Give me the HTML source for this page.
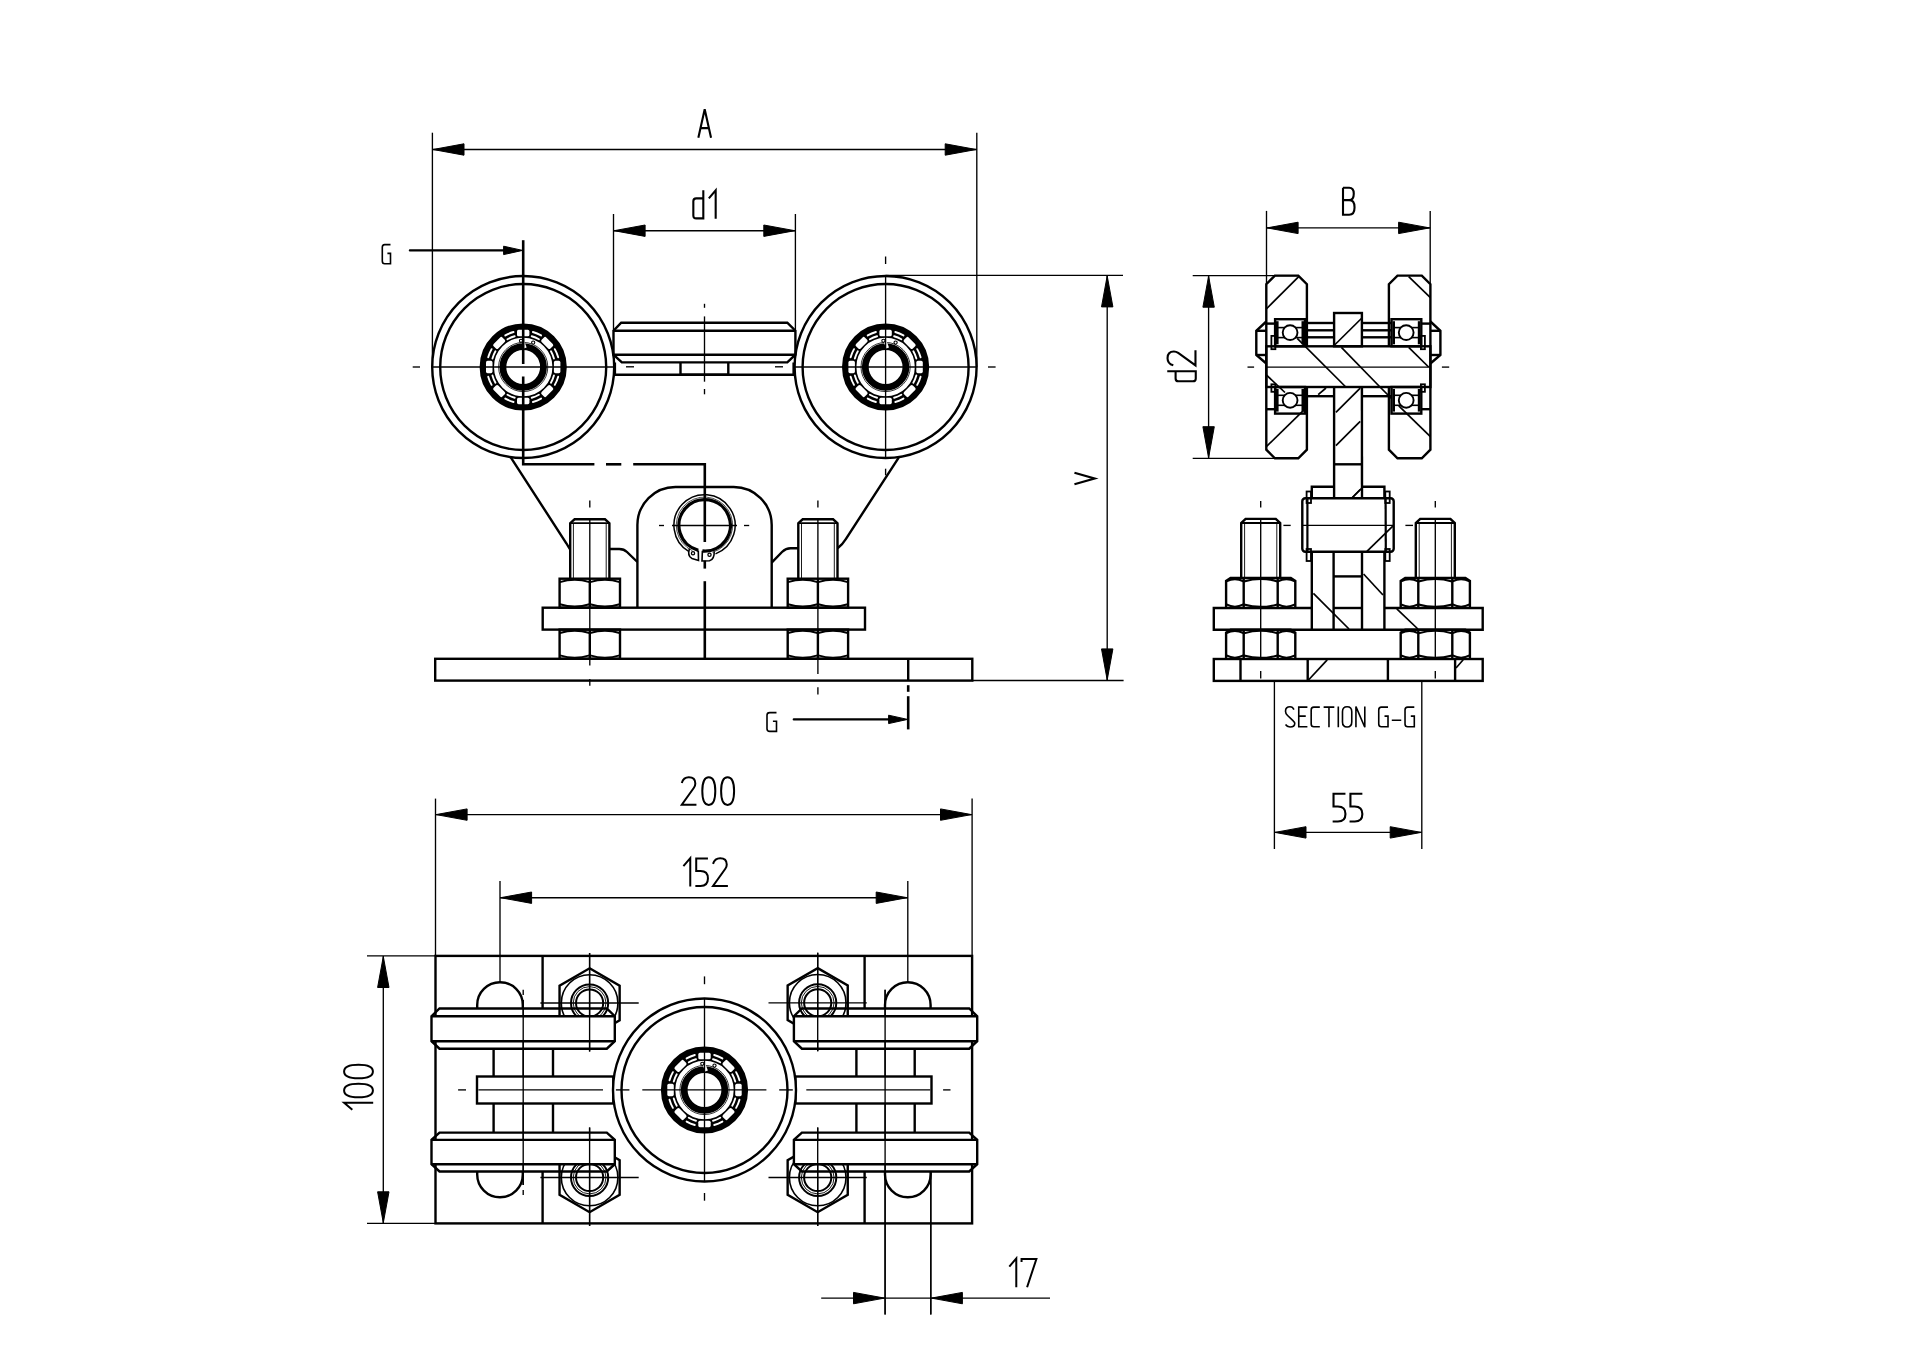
<!DOCTYPE html>
<html><head><meta charset="utf-8"><style>
html,body{margin:0;padding:0;background:#fff;}
svg{display:block;}
</style></head><body>
<svg width="1920" height="1358" viewBox="0 0 1920 1358">
<rect width="1920" height="1358" fill="#fff"/>
<g stroke="#000" fill="none" stroke-linecap="butt">
<line x1="432.40" y1="149.50" x2="976.80" y2="149.50" stroke-width="1.35"/>
<path d="M433.00,149.50 L464.00,143.80 L464.00,155.20 Z" fill="#000" stroke="#000" stroke-width="1.00" stroke-linejoin="round"/>
<path d="M976.20,149.50 L945.20,155.20 L945.20,143.80 Z" fill="#000" stroke="#000" stroke-width="1.00" stroke-linejoin="round"/>
<line x1="432.40" y1="132.70" x2="432.40" y2="367.00" stroke-width="1.35"/>
<line x1="976.80" y1="132.70" x2="976.80" y2="367.00" stroke-width="1.35"/>
<path transform="translate(698.35,109.15) scale(2.6458,2.8600)" d="M 0.00,10.00 L 2.40,0.00 L 4.80,10.00 M 0.85,6.65 H 3.95" stroke-width="2.10" fill="none" vector-effect="non-scaling-stroke"/>
<line x1="613.50" y1="230.70" x2="795.40" y2="230.70" stroke-width="1.35"/>
<path d="M614.10,230.70 L645.10,225.00 L645.10,236.40 Z" fill="#000" stroke="#000" stroke-width="1.00" stroke-linejoin="round"/>
<path d="M794.80,230.70 L763.80,236.40 L763.80,225.00 Z" fill="#000" stroke="#000" stroke-width="1.00" stroke-linejoin="round"/>
<line x1="613.50" y1="214.00" x2="613.50" y2="331.00" stroke-width="1.35"/>
<line x1="795.40" y1="214.00" x2="795.40" y2="331.00" stroke-width="1.35"/>
<path transform="translate(693.05,190.15) scale(2.8500,2.8500)" d="M 3.60,0.00 V 9.90 H 1.10 Q 0.10,9.90 0.10,8.90 V 3.90 Q 0.10,2.90 1.10,2.90 H 3.60 M 5.54,2.90 L 7.94,0.10 V 10.00" stroke-width="2.10" fill="none" vector-effect="non-scaling-stroke"/>
<circle cx="523.20" cy="367.00" r="91.00" stroke-width="2.40" fill="none" stroke="#000"/>
<circle cx="523.20" cy="367.00" r="83.00" stroke-width="2.40" fill="none" stroke="#000"/>
<circle cx="885.60" cy="367.00" r="91.00" stroke-width="2.40" fill="none" stroke="#000"/>
<circle cx="885.60" cy="367.00" r="83.00" stroke-width="2.40" fill="none" stroke="#000"/>
<path d="M621.2,322.7 H787.3 L795.4,330.7 V354.7 L787.3,362.4 H621.8 L613.5,354.7 V330.7 Z" stroke-width="2.40" fill="none"/>
<line x1="613.50" y1="330.70" x2="795.40" y2="330.70" stroke-width="2.40"/>
<line x1="613.50" y1="354.70" x2="795.40" y2="354.70" stroke-width="2.40"/>
<path d="M614.9,362.4 V374.8 H793.6 V362.4" stroke-width="2.40" fill="none"/>
<path d="M680.5,362.4 V374.8 H728.3 V362.4" stroke-width="2.40" fill="none"/>
<line x1="704.50" y1="303.80" x2="704.50" y2="307.80" stroke-width="1.35"/>
<line x1="704.50" y1="316.40" x2="704.50" y2="381.70" stroke-width="1.35"/>
<line x1="704.50" y1="389.00" x2="704.50" y2="394.30" stroke-width="1.35"/>
<line x1="626.00" y1="366.80" x2="634.00" y2="366.80" stroke-width="1.35"/>
<line x1="775.00" y1="366.80" x2="783.00" y2="366.80" stroke-width="1.35"/>
<circle cx="523.20" cy="367.00" r="36.40" stroke-width="14.40" fill="none" stroke="#000"/>
<path d="M558.18,376.70 A36.30,36.30 0 0 1 554.79,384.87" stroke="#fff" stroke-width="1.9" stroke-linecap="round" fill="none"/>
<path d="M553.94,375.52 A31.90,31.90 0 0 1 550.96,382.71" stroke="#fff" stroke-width="1.9" stroke-linecap="round" fill="none"/>
<path d="M541.07,398.59 A36.30,36.30 0 0 1 532.90,401.98" stroke="#fff" stroke-width="1.9" stroke-linecap="round" fill="none"/>
<path d="M538.91,394.76 A31.90,31.90 0 0 1 531.72,397.74" stroke="#fff" stroke-width="1.9" stroke-linecap="round" fill="none"/>
<path d="M513.50,401.98 A36.30,36.30 0 0 1 505.33,398.59" stroke="#fff" stroke-width="1.9" stroke-linecap="round" fill="none"/>
<path d="M514.68,397.74 A31.90,31.90 0 0 1 507.49,394.76" stroke="#fff" stroke-width="1.9" stroke-linecap="round" fill="none"/>
<path d="M491.61,384.87 A36.30,36.30 0 0 1 488.22,376.70" stroke="#fff" stroke-width="1.9" stroke-linecap="round" fill="none"/>
<path d="M495.44,382.71 A31.90,31.90 0 0 1 492.46,375.52" stroke="#fff" stroke-width="1.9" stroke-linecap="round" fill="none"/>
<path d="M488.22,357.30 A36.30,36.30 0 0 1 491.61,349.13" stroke="#fff" stroke-width="1.9" stroke-linecap="round" fill="none"/>
<path d="M492.46,358.48 A31.90,31.90 0 0 1 495.44,351.29" stroke="#fff" stroke-width="1.9" stroke-linecap="round" fill="none"/>
<path d="M505.33,335.41 A36.30,36.30 0 0 1 513.50,332.02" stroke="#fff" stroke-width="1.9" stroke-linecap="round" fill="none"/>
<path d="M507.49,339.24 A31.90,31.90 0 0 1 514.68,336.26" stroke="#fff" stroke-width="1.9" stroke-linecap="round" fill="none"/>
<path d="M532.90,332.02 A36.30,36.30 0 0 1 541.07,335.41" stroke="#fff" stroke-width="1.9" stroke-linecap="round" fill="none"/>
<path d="M531.72,336.26 A31.90,31.90 0 0 1 538.91,339.24" stroke="#fff" stroke-width="1.9" stroke-linecap="round" fill="none"/>
<path d="M554.79,349.13 A36.30,36.30 0 0 1 558.18,357.30" stroke="#fff" stroke-width="1.9" stroke-linecap="round" fill="none"/>
<path d="M550.96,351.29 A31.90,31.90 0 0 1 553.94,358.48" stroke="#fff" stroke-width="1.9" stroke-linecap="round" fill="none"/>
<rect x="553.90" y="360.80" width="6.5" height="12.4" rx="1.6" fill="#fff" stroke="none" transform="rotate(0 557.15 367.00)"/>
<rect x="543.96" y="384.81" width="6.5" height="12.4" rx="1.6" fill="#fff" stroke="none" transform="rotate(45 547.21 391.01)"/>
<rect x="519.95" y="394.75" width="6.5" height="12.4" rx="1.6" fill="#fff" stroke="none" transform="rotate(90 523.20 400.95)"/>
<rect x="495.94" y="384.81" width="6.5" height="12.4" rx="1.6" fill="#fff" stroke="none" transform="rotate(135 499.19 391.01)"/>
<rect x="486.00" y="360.80" width="6.5" height="12.4" rx="1.6" fill="#fff" stroke="none" transform="rotate(180 489.25 367.00)"/>
<rect x="495.94" y="336.79" width="6.5" height="12.4" rx="1.6" fill="#fff" stroke="none" transform="rotate(225 499.19 342.99)"/>
<rect x="519.95" y="326.85" width="6.5" height="12.4" rx="1.6" fill="#fff" stroke="none" transform="rotate(270 523.20 333.05)"/>
<rect x="543.96" y="336.79" width="6.5" height="12.4" rx="1.6" fill="#fff" stroke="none" transform="rotate(315 547.21 342.99)"/>
<circle cx="523.20" cy="367.00" r="24.60" stroke-width="0.80" fill="none" stroke="#000"/>
<circle cx="523.20" cy="367.00" r="20.30" stroke-width="6.80" fill="none" stroke="#000"/>
<path d="M522.20,340.00 L525.20,348.00" stroke="#fff" stroke-width="3"/>
<circle cx="521.00" cy="340.80" r="1.60" stroke-width="1.10" fill="#fff" stroke="#000"/>
<circle cx="533.20" cy="342.60" r="1.60" stroke-width="1.10" fill="#fff" stroke="#000"/>
<circle cx="885.60" cy="367.00" r="36.40" stroke-width="14.40" fill="none" stroke="#000"/>
<path d="M920.58,376.70 A36.30,36.30 0 0 1 917.19,384.87" stroke="#fff" stroke-width="1.9" stroke-linecap="round" fill="none"/>
<path d="M916.34,375.52 A31.90,31.90 0 0 1 913.36,382.71" stroke="#fff" stroke-width="1.9" stroke-linecap="round" fill="none"/>
<path d="M903.47,398.59 A36.30,36.30 0 0 1 895.30,401.98" stroke="#fff" stroke-width="1.9" stroke-linecap="round" fill="none"/>
<path d="M901.31,394.76 A31.90,31.90 0 0 1 894.12,397.74" stroke="#fff" stroke-width="1.9" stroke-linecap="round" fill="none"/>
<path d="M875.90,401.98 A36.30,36.30 0 0 1 867.73,398.59" stroke="#fff" stroke-width="1.9" stroke-linecap="round" fill="none"/>
<path d="M877.08,397.74 A31.90,31.90 0 0 1 869.89,394.76" stroke="#fff" stroke-width="1.9" stroke-linecap="round" fill="none"/>
<path d="M854.01,384.87 A36.30,36.30 0 0 1 850.62,376.70" stroke="#fff" stroke-width="1.9" stroke-linecap="round" fill="none"/>
<path d="M857.84,382.71 A31.90,31.90 0 0 1 854.86,375.52" stroke="#fff" stroke-width="1.9" stroke-linecap="round" fill="none"/>
<path d="M850.62,357.30 A36.30,36.30 0 0 1 854.01,349.13" stroke="#fff" stroke-width="1.9" stroke-linecap="round" fill="none"/>
<path d="M854.86,358.48 A31.90,31.90 0 0 1 857.84,351.29" stroke="#fff" stroke-width="1.9" stroke-linecap="round" fill="none"/>
<path d="M867.73,335.41 A36.30,36.30 0 0 1 875.90,332.02" stroke="#fff" stroke-width="1.9" stroke-linecap="round" fill="none"/>
<path d="M869.89,339.24 A31.90,31.90 0 0 1 877.08,336.26" stroke="#fff" stroke-width="1.9" stroke-linecap="round" fill="none"/>
<path d="M895.30,332.02 A36.30,36.30 0 0 1 903.47,335.41" stroke="#fff" stroke-width="1.9" stroke-linecap="round" fill="none"/>
<path d="M894.12,336.26 A31.90,31.90 0 0 1 901.31,339.24" stroke="#fff" stroke-width="1.9" stroke-linecap="round" fill="none"/>
<path d="M917.19,349.13 A36.30,36.30 0 0 1 920.58,357.30" stroke="#fff" stroke-width="1.9" stroke-linecap="round" fill="none"/>
<path d="M913.36,351.29 A31.90,31.90 0 0 1 916.34,358.48" stroke="#fff" stroke-width="1.9" stroke-linecap="round" fill="none"/>
<rect x="916.30" y="360.80" width="6.5" height="12.4" rx="1.6" fill="#fff" stroke="none" transform="rotate(0 919.55 367.00)"/>
<rect x="906.36" y="384.81" width="6.5" height="12.4" rx="1.6" fill="#fff" stroke="none" transform="rotate(45 909.61 391.01)"/>
<rect x="882.35" y="394.75" width="6.5" height="12.4" rx="1.6" fill="#fff" stroke="none" transform="rotate(90 885.60 400.95)"/>
<rect x="858.34" y="384.81" width="6.5" height="12.4" rx="1.6" fill="#fff" stroke="none" transform="rotate(135 861.59 391.01)"/>
<rect x="848.40" y="360.80" width="6.5" height="12.4" rx="1.6" fill="#fff" stroke="none" transform="rotate(180 851.65 367.00)"/>
<rect x="858.34" y="336.79" width="6.5" height="12.4" rx="1.6" fill="#fff" stroke="none" transform="rotate(225 861.59 342.99)"/>
<rect x="882.35" y="326.85" width="6.5" height="12.4" rx="1.6" fill="#fff" stroke="none" transform="rotate(270 885.60 333.05)"/>
<rect x="906.36" y="336.79" width="6.5" height="12.4" rx="1.6" fill="#fff" stroke="none" transform="rotate(315 909.61 342.99)"/>
<circle cx="885.60" cy="367.00" r="24.60" stroke-width="0.80" fill="none" stroke="#000"/>
<circle cx="885.60" cy="367.00" r="20.30" stroke-width="6.80" fill="none" stroke="#000"/>
<path d="M884.60,340.00 L887.60,348.00" stroke="#fff" stroke-width="3"/>
<circle cx="883.40" cy="340.80" r="1.60" stroke-width="1.10" fill="#fff" stroke="#000"/>
<circle cx="895.60" cy="342.60" r="1.60" stroke-width="1.10" fill="#fff" stroke="#000"/>
<line x1="412.70" y1="367.00" x2="420.00" y2="367.00" stroke-width="1.35"/>
<line x1="432.00" y1="367.00" x2="614.50" y2="367.00" stroke-width="1.35"/>
<line x1="795.00" y1="367.00" x2="977.00" y2="367.00" stroke-width="1.35"/>
<line x1="988.00" y1="367.00" x2="995.60" y2="367.00" stroke-width="1.35"/>
<line x1="885.60" y1="256.50" x2="885.60" y2="264.00" stroke-width="1.35"/>
<line x1="885.60" y1="275.00" x2="885.60" y2="458.50" stroke-width="1.35"/>
<line x1="885.60" y1="468.70" x2="885.60" y2="475.30" stroke-width="1.35"/>
<line x1="409.90" y1="250.40" x2="510.00" y2="250.40" stroke-width="2.30" stroke-linecap="round"/>
<path d="M522.60,250.40 L503.60,254.60 L503.60,246.20 Z" fill="#000" stroke="#000" stroke-width="1.00" stroke-linejoin="round"/>
<path d="M523.2,240.2 V364" stroke-width="2.60" fill="none"/>
<path d="M523.2,376.6 V464.3 H594.4" stroke-width="2.60" fill="none"/>
<path d="M606,464.3 H621.3" stroke-width="2.60" fill="none"/>
<path d="M633.2,464.3 H704.8 V542" stroke-width="2.60" fill="none"/>
<path d="M704.8,560.6 V568.6" stroke-width="2.60" fill="none"/>
<path d="M704.8,581.2 V658.8" stroke-width="2.60" fill="none"/>
<path d="M510.6,457.2 L566.5,543.5 Q568.5,547 570.2,549.5" stroke-width="2.40" fill="none"/>
<path d="M898.7,457.7 L845.5,539.5 Q843,544 837.6,548.2" stroke-width="2.40" fill="none"/>
<path d="M570.20,578.6 V523.2 L574.60,519.3 H605.00 L609.40,523.2 V578.6" stroke-width="2.40" fill="none"/>
<line x1="570.20" y1="523.20" x2="609.40" y2="523.20" stroke-width="1.80"/>
<line x1="573.40" y1="523.20" x2="573.40" y2="578.60" stroke-width="0.90"/>
<line x1="606.20" y1="523.20" x2="606.20" y2="578.60" stroke-width="0.90"/>
<line x1="589.80" y1="519.30" x2="589.80" y2="665.50" stroke-width="1.35"/>
<line x1="589.80" y1="679.00" x2="589.80" y2="685.70" stroke-width="1.35"/>
<line x1="589.80" y1="500.50" x2="589.80" y2="507.50" stroke-width="1.35"/>
<rect x="559.60" y="578.70" width="60.40" height="29.00" stroke-width="2.40" fill="none"/>
<line x1="589.80" y1="578.70" x2="589.80" y2="607.70" stroke-width="2.40"/>
<path d="M559.90,582.10 Q574.70,577.50 589.50,582.10" stroke-width="2.00" fill="none"/>
<path d="M559.90,604.30 Q574.70,608.90 589.50,604.30" stroke-width="2.00" fill="none"/>
<path d="M590.10,582.10 Q604.90,577.50 619.70,582.10" stroke-width="2.00" fill="none"/>
<path d="M590.10,604.30 Q604.90,608.90 619.70,604.30" stroke-width="2.00" fill="none"/>
<rect x="559.60" y="629.60" width="60.40" height="29.20" stroke-width="2.40" fill="none"/>
<line x1="589.80" y1="629.60" x2="589.80" y2="658.80" stroke-width="2.40"/>
<path d="M559.90,633.00 Q574.70,628.40 589.50,633.00" stroke-width="2.00" fill="none"/>
<path d="M559.90,655.40 Q574.70,660.00 589.50,655.40" stroke-width="2.00" fill="none"/>
<path d="M590.10,633.00 Q604.90,628.40 619.70,633.00" stroke-width="2.00" fill="none"/>
<path d="M590.10,655.40 Q604.90,660.00 619.70,655.40" stroke-width="2.00" fill="none"/>
<path d="M798.30,578.6 V523.2 L802.70,519.3 H833.10 L837.50,523.2 V578.6" stroke-width="2.40" fill="none"/>
<line x1="798.30" y1="523.20" x2="837.50" y2="523.20" stroke-width="1.80"/>
<line x1="801.50" y1="523.20" x2="801.50" y2="578.60" stroke-width="0.90"/>
<line x1="834.30" y1="523.20" x2="834.30" y2="578.60" stroke-width="0.90"/>
<line x1="817.90" y1="519.30" x2="817.90" y2="673.90" stroke-width="1.35"/>
<line x1="817.90" y1="687.20" x2="817.90" y2="694.50" stroke-width="1.35"/>
<line x1="817.90" y1="500.50" x2="817.90" y2="507.50" stroke-width="1.35"/>
<rect x="787.70" y="578.70" width="60.40" height="29.00" stroke-width="2.40" fill="none"/>
<line x1="817.90" y1="578.70" x2="817.90" y2="607.70" stroke-width="2.40"/>
<path d="M788.00,582.10 Q802.80,577.50 817.60,582.10" stroke-width="2.00" fill="none"/>
<path d="M788.00,604.30 Q802.80,608.90 817.60,604.30" stroke-width="2.00" fill="none"/>
<path d="M818.20,582.10 Q833.00,577.50 847.80,582.10" stroke-width="2.00" fill="none"/>
<path d="M818.20,604.30 Q833.00,608.90 847.80,604.30" stroke-width="2.00" fill="none"/>
<rect x="787.70" y="629.60" width="60.40" height="29.20" stroke-width="2.40" fill="none"/>
<line x1="817.90" y1="629.60" x2="817.90" y2="658.80" stroke-width="2.40"/>
<path d="M788.00,633.00 Q802.80,628.40 817.60,633.00" stroke-width="2.00" fill="none"/>
<path d="M788.00,655.40 Q802.80,660.00 817.60,655.40" stroke-width="2.00" fill="none"/>
<path d="M818.20,633.00 Q833.00,628.40 847.80,633.00" stroke-width="2.00" fill="none"/>
<path d="M818.20,655.40 Q833.00,660.00 847.80,655.40" stroke-width="2.00" fill="none"/>
<rect x="542.70" y="607.70" width="322.30" height="21.90" stroke-width="2.40" fill="none"/>
<rect x="435.20" y="658.80" width="537.10" height="21.80" stroke-width="2.40" fill="none"/>
<line x1="908.20" y1="658.80" x2="908.20" y2="680.60" stroke-width="2.40"/>
<path d="M637.4,607.7 V525 A38,38 0 0 1 675.4,487 H733.7 A38,38 0 0 1 771.7,525 V607.7" stroke-width="2.40" fill="none"/>
<path d="M609.3,549 H619.3 Q624,549 627,552 L637.4,562" stroke-width="2.40" fill="none"/>
<path d="M798.2,548.2 H790.5 Q786,548.2 782,552 L771.7,562.6" stroke-width="2.40" fill="none"/>
<path d="M689.0,551.7 A30.6,30.6 0 1 1 715.5,553.9" stroke-width="1.50" fill="none"/>
<path d="M692.5,550.8 A28.2,28.2 0 1 1 712.5,552.3" stroke-width="0.70" fill="none"/>
<path d="M698.3,550.3 A25.75,25.75 0 1 1 702.4,551.0" stroke-width="3.30" fill="none"/>
<path d="M689.5,548.5 Q687,556 692,558.5 L698.5,560.5 L698.3,550.5" stroke-width="1.60" fill="none"/>
<path d="M702.4,550.8 L702.0,561.0 L709.5,560.8 Q714.5,559.5 714.2,551.5" stroke-width="1.60" fill="none"/>
<circle cx="693.00" cy="553.30" r="1.60" stroke-width="1.30" fill="none" stroke="#000"/>
<circle cx="709.50" cy="554.80" r="1.60" stroke-width="1.30" fill="none" stroke="#000"/>
<line x1="659.00" y1="525.50" x2="664.00" y2="525.50" stroke-width="1.35"/>
<line x1="672.00" y1="525.50" x2="737.00" y2="525.50" stroke-width="1.35"/>
<line x1="744.00" y1="525.50" x2="749.20" y2="525.50" stroke-width="1.35"/>
<line x1="1107.20" y1="275.30" x2="1107.20" y2="680.50" stroke-width="1.35"/>
<path d="M1107.20,275.90 L1112.90,306.90 L1101.50,306.90 Z" fill="#000" stroke="#000" stroke-width="1.00" stroke-linejoin="round"/>
<path d="M1107.20,679.90 L1101.50,648.90 L1112.90,648.90 Z" fill="#000" stroke="#000" stroke-width="1.00" stroke-linejoin="round"/>
<line x1="885.60" y1="275.30" x2="1123.00" y2="275.30" stroke-width="1.35"/>
<line x1="972.30" y1="680.50" x2="1123.60" y2="680.50" stroke-width="1.35"/>
<path transform="translate(1066.67,484.25) rotate(-90) scale(2.6136,2.7778)" d="M 0.00,2.80 L 2.20,10.00 L 4.40,2.80" stroke-width="2.30" fill="none" vector-effect="non-scaling-stroke"/>
<path transform="translate(767.00,712.10) scale(2.1111,1.9800)" d="M 4.50,0.25 H 1.30 Q 0.00,0.25 0.00,1.60 V 8.40 Q 0.00,9.75 1.30,9.75 H 4.50 V 4.60 H 2.80" stroke-width="1.60" fill="none" vector-effect="non-scaling-stroke"/>
<line x1="793.80" y1="719.40" x2="895.00" y2="719.40" stroke-width="2.30" stroke-linecap="round"/>
<path d="M907.60,719.40 L888.60,723.60 L888.60,715.20 Z" fill="#000" stroke="#000" stroke-width="1.00" stroke-linejoin="round"/>
<path d="M908.2,685.2 V691.8" stroke-width="2.60" fill="none"/>
<path d="M908.2,696.2 V729.4" stroke-width="2.60" fill="none"/>
<path transform="translate(382.30,244.10) scale(1.8222,2.0100)" d="M 4.50,0.25 H 1.30 Q 0.00,0.25 0.00,1.60 V 8.40 Q 0.00,9.75 1.30,9.75 H 4.50 V 4.60 H 2.80" stroke-width="1.60" fill="none" vector-effect="non-scaling-stroke"/>
<line x1="1266.50" y1="227.90" x2="1430.20" y2="227.90" stroke-width="1.35"/>
<path d="M1267.10,227.90 L1298.10,222.20 L1298.10,233.60 Z" fill="#000" stroke="#000" stroke-width="1.00" stroke-linejoin="round"/>
<path d="M1429.60,227.90 L1398.60,233.60 L1398.60,222.20 Z" fill="#000" stroke="#000" stroke-width="1.00" stroke-linejoin="round"/>
<line x1="1266.50" y1="210.90" x2="1266.50" y2="284.00" stroke-width="1.35"/>
<line x1="1430.20" y1="210.90" x2="1430.20" y2="284.00" stroke-width="1.35"/>
<path transform="translate(1342.75,187.25) scale(2.5652,2.8000)" d="M 0.10,0.20 H 2.50 Q 4.30,0.20 4.30,2.30 Q 4.30,4.60 2.50,4.60 H 0.10 M 2.50,4.60 Q 4.60,4.60 4.60,7.20 Q 4.60,9.80 2.50,9.80 H 0.10 V 0.20" stroke-width="2.10" fill="none" vector-effect="non-scaling-stroke"/>
<line x1="1208.60" y1="275.60" x2="1208.60" y2="458.30" stroke-width="1.35"/>
<path d="M1208.60,276.20 L1214.30,307.20 L1202.90,307.20 Z" fill="#000" stroke="#000" stroke-width="1.00" stroke-linejoin="round"/>
<path d="M1208.60,457.70 L1202.90,426.70 L1214.30,426.70 Z" fill="#000" stroke="#000" stroke-width="1.00" stroke-linejoin="round"/>
<line x1="1192.70" y1="275.60" x2="1297.00" y2="275.60" stroke-width="1.35"/>
<line x1="1192.70" y1="458.30" x2="1297.00" y2="458.30" stroke-width="1.35"/>
<path transform="translate(1167.25,381.55) rotate(-90) scale(2.8800,2.8800)" d="M 3.60,0.00 V 9.90 H 1.10 Q 0.10,9.90 0.10,8.90 V 3.90 Q 0.10,2.90 1.10,2.90 H 3.60 M 5.63,2.10 Q 6.23,0.10 8.13,0.10 Q 10.43,0.10 10.43,2.30 Q 10.43,3.10 9.93,3.80 L 5.63,9.80 H 10.83" stroke-width="2.10" fill="none" vector-effect="non-scaling-stroke"/>
<path d="M1306.90,346.3 V284.20 L1298.30,275.6 H1274.90 L1266.30,284.20 V449.70 L1274.90,458.3 H1298.30 L1306.90,449.70 V387.0" stroke-width="2.40" fill="none"/>
<path d="M1388.90,346.3 V284.20 L1397.50,275.6 H1421.80 L1430.40,284.20 V449.70 L1421.80,458.3 H1397.50 L1388.90,449.70 V387.0" stroke-width="2.40" fill="none"/>
<rect x="1266.30" y="346.30" width="164.10" height="40.70" stroke-width="2.40" fill="none"/>
<line x1="1247.50" y1="367.10" x2="1254.10" y2="367.10" stroke-width="1.35"/>
<line x1="1266.30" y1="367.10" x2="1430.40" y2="367.10" stroke-width="1.35"/>
<line x1="1441.90" y1="367.10" x2="1449.20" y2="367.10" stroke-width="1.35"/>
<rect x="1275.10" y="319.20" width="29.90" height="27.10" stroke-width="2.40" fill="none"/>
<line x1="1277.60" y1="327.60" x2="1302.50" y2="327.60" stroke-width="1.60"/>
<line x1="1277.60" y1="337.60" x2="1302.50" y2="337.60" stroke-width="1.60"/>
<circle cx="1290.10" cy="332.60" r="7.40" stroke-width="1.90" fill="#fff" stroke="#000"/>
<line x1="1277.30" y1="321.20" x2="1277.30" y2="344.30" stroke-width="2.60"/>
<line x1="1302.80" y1="321.20" x2="1302.80" y2="344.30" stroke-width="2.60"/>
<rect x="1275.10" y="387.00" width="29.90" height="26.60" stroke-width="2.40" fill="none"/>
<line x1="1277.60" y1="395.30" x2="1302.50" y2="395.30" stroke-width="1.60"/>
<line x1="1277.60" y1="405.30" x2="1302.50" y2="405.30" stroke-width="1.60"/>
<circle cx="1290.10" cy="400.30" r="7.40" stroke-width="1.90" fill="#fff" stroke="#000"/>
<line x1="1277.30" y1="389.00" x2="1277.30" y2="411.60" stroke-width="2.60"/>
<line x1="1302.80" y1="389.00" x2="1302.80" y2="411.60" stroke-width="2.60"/>
<rect x="1391.50" y="319.20" width="29.80" height="27.10" stroke-width="2.40" fill="none"/>
<line x1="1394.00" y1="327.60" x2="1418.80" y2="327.60" stroke-width="1.60"/>
<line x1="1394.00" y1="337.60" x2="1418.80" y2="337.60" stroke-width="1.60"/>
<circle cx="1406.20" cy="332.60" r="7.40" stroke-width="1.90" fill="#fff" stroke="#000"/>
<line x1="1393.70" y1="321.20" x2="1393.70" y2="344.30" stroke-width="2.60"/>
<line x1="1419.10" y1="321.20" x2="1419.10" y2="344.30" stroke-width="2.60"/>
<rect x="1391.50" y="387.00" width="29.80" height="26.60" stroke-width="2.40" fill="none"/>
<line x1="1394.00" y1="395.30" x2="1418.80" y2="395.30" stroke-width="1.60"/>
<line x1="1394.00" y1="405.30" x2="1418.80" y2="405.30" stroke-width="1.60"/>
<circle cx="1406.20" cy="400.30" r="7.40" stroke-width="1.90" fill="#fff" stroke="#000"/>
<line x1="1393.70" y1="389.00" x2="1393.70" y2="411.60" stroke-width="2.60"/>
<line x1="1419.10" y1="389.00" x2="1419.10" y2="411.60" stroke-width="2.60"/>
<rect x="1271.40" y="335.90" width="4.00" height="13.30" stroke-width="1.80" fill="none"/>
<rect x="1420.90" y="335.90" width="4.00" height="13.30" stroke-width="1.80" fill="none"/>
<rect x="1271.40" y="384.30" width="4.00" height="7.50" stroke-width="1.80" fill="none"/>
<rect x="1420.90" y="384.30" width="4.00" height="7.50" stroke-width="1.80" fill="none"/>
<path d="M1266.30,321.5 L1256.30,330.8 V355.0 L1266.30,363.5" stroke-width="2.40" fill="none"/>
<line x1="1256.30" y1="330.80" x2="1266.30" y2="330.80" stroke-width="2.40"/>
<line x1="1256.30" y1="355.00" x2="1266.30" y2="355.00" stroke-width="2.40"/>
<line x1="1266.30" y1="323.60" x2="1275.30" y2="323.60" stroke-width="2.40"/>
<path d="M1430.40,321.5 L1440.40,330.8 V355.0 L1430.40,363.5" stroke-width="2.40" fill="none"/>
<line x1="1440.40" y1="330.80" x2="1430.40" y2="330.80" stroke-width="2.40"/>
<line x1="1440.40" y1="355.00" x2="1430.40" y2="355.00" stroke-width="2.40"/>
<line x1="1430.40" y1="323.60" x2="1421.40" y2="323.60" stroke-width="2.40"/>
<line x1="1305.00" y1="323.00" x2="1334.10" y2="323.00" stroke-width="2.40"/>
<line x1="1361.90" y1="323.00" x2="1391.50" y2="323.00" stroke-width="2.40"/>
<line x1="1305.00" y1="330.30" x2="1334.10" y2="330.30" stroke-width="2.40"/>
<line x1="1361.90" y1="330.30" x2="1391.50" y2="330.30" stroke-width="2.40"/>
<line x1="1305.00" y1="337.30" x2="1334.10" y2="337.30" stroke-width="2.40"/>
<line x1="1361.90" y1="337.30" x2="1391.50" y2="337.30" stroke-width="2.40"/>
<line x1="1305.00" y1="396.20" x2="1334.10" y2="396.20" stroke-width="2.40"/>
<line x1="1361.90" y1="396.20" x2="1391.50" y2="396.20" stroke-width="2.40"/>
<line x1="1266.30" y1="409.20" x2="1275.10" y2="409.20" stroke-width="2.40"/>
<line x1="1421.30" y1="409.20" x2="1430.40" y2="409.20" stroke-width="2.40"/>
<rect x="1334.10" y="313.00" width="27.80" height="33.30" stroke-width="2.40" fill="none"/>
<line x1="1334.10" y1="345.50" x2="1361.90" y2="318.00" stroke-width="1.70"/>
<line x1="1334.10" y1="387.00" x2="1334.10" y2="497.50" stroke-width="2.40"/>
<line x1="1361.90" y1="387.00" x2="1362.00" y2="497.50" stroke-width="2.40"/>
<line x1="1334.10" y1="464.30" x2="1361.90" y2="464.30" stroke-width="2.40"/>
<line x1="1297.20" y1="338.40" x2="1345.80" y2="387.00" stroke-width="1.70"/>
<line x1="1341.40" y1="347.30" x2="1380.00" y2="387.00" stroke-width="1.70"/>
<line x1="1408.70" y1="347.30" x2="1428.60" y2="367.00" stroke-width="1.70"/>
<line x1="1266.30" y1="374.90" x2="1285.00" y2="392.50" stroke-width="1.70"/>
<line x1="1298.70" y1="276.60" x2="1266.30" y2="309.00" stroke-width="1.70"/>
<line x1="1303.80" y1="410.20" x2="1266.30" y2="446.70" stroke-width="1.70"/>
<line x1="1408.70" y1="276.60" x2="1430.40" y2="297.60" stroke-width="1.70"/>
<line x1="1398.80" y1="405.80" x2="1430.40" y2="436.70" stroke-width="1.70"/>
<line x1="1360.20" y1="388.10" x2="1335.90" y2="412.40" stroke-width="1.70"/>
<line x1="1360.20" y1="421.30" x2="1335.90" y2="445.60" stroke-width="1.70"/>
<line x1="1360.20" y1="489.70" x2="1352.40" y2="497.50" stroke-width="1.70"/>
<line x1="1318.20" y1="394.70" x2="1326.00" y2="388.00" stroke-width="1.70"/>
<line x1="1380.00" y1="387.00" x2="1391.50" y2="398.50" stroke-width="1.70"/>
<rect x="1302.3" y="498.2" width="91.4" height="53.5" rx="3" stroke-width="2.4" fill="none"/>
<path d="M1311.8,498.1 V486.8 H1334.1 M1361.9,486.8 H1384.4 V498.1" stroke-width="2.40" fill="none"/>
<line x1="1307.40" y1="498.10" x2="1307.40" y2="551.60" stroke-width="2.20"/>
<line x1="1385.60" y1="498.10" x2="1385.80" y2="551.60" stroke-width="2.20"/>
<line x1="1302.10" y1="525.40" x2="1393.60" y2="525.40" stroke-width="1.35"/>
<line x1="1392.80" y1="526.20" x2="1366.90" y2="551.30" stroke-width="1.70"/>
<line x1="1352.40" y1="497.50" x2="1361.90" y2="488.00" stroke-width="1.70"/>
<rect x="1306.60" y="491.50" width="4.40" height="11.50" stroke-width="1.80" fill="none"/>
<rect x="1385.30" y="491.50" width="4.40" height="11.50" stroke-width="1.80" fill="none"/>
<rect x="1306.60" y="549.00" width="4.40" height="12.00" stroke-width="1.80" fill="none"/>
<rect x="1385.30" y="549.00" width="4.40" height="12.00" stroke-width="1.80" fill="none"/>
<line x1="1311.80" y1="551.30" x2="1311.80" y2="629.80" stroke-width="2.40"/>
<line x1="1384.40" y1="551.30" x2="1384.40" y2="629.80" stroke-width="2.40"/>
<line x1="1333.60" y1="551.30" x2="1333.60" y2="629.80" stroke-width="2.40"/>
<line x1="1362.00" y1="551.30" x2="1362.00" y2="629.80" stroke-width="2.40"/>
<line x1="1333.60" y1="576.40" x2="1362.00" y2="576.40" stroke-width="2.40"/>
<line x1="1333.60" y1="608.00" x2="1362.00" y2="608.00" stroke-width="2.40"/>
<line x1="1313.40" y1="593.40" x2="1349.00" y2="629.00" stroke-width="1.70"/>
<line x1="1363.60" y1="574.00" x2="1383.00" y2="595.00" stroke-width="1.70"/>
<path d="M1241.20,578.0 V523.0 L1245.60,518.9 H1275.80 L1280.20,523.0 V578.0" stroke-width="2.40" fill="none"/>
<line x1="1241.20" y1="523.00" x2="1280.20" y2="523.00" stroke-width="1.80"/>
<line x1="1244.60" y1="523.00" x2="1244.60" y2="578.00" stroke-width="0.90"/>
<line x1="1276.80" y1="523.00" x2="1276.80" y2="578.00" stroke-width="0.90"/>
<line x1="1260.70" y1="519.00" x2="1260.70" y2="658.50" stroke-width="1.35"/>
<line x1="1260.70" y1="671.00" x2="1260.70" y2="678.50" stroke-width="1.35"/>
<line x1="1260.70" y1="501.00" x2="1260.70" y2="507.50" stroke-width="1.35"/>
<path d="M1226.10,607.80 V580.80 L1230.60,578.00 H1290.80 L1295.30,580.80 V607.80" stroke-width="2.40" fill="none"/>
<path d="M1226.40,581.40 Q1234.90,576.80 1243.40,581.40" stroke-width="2.10" fill="none"/>
<path d="M1226.40,604.40 Q1234.90,609.00 1243.40,604.40" stroke-width="2.10" fill="none"/>
<line x1="1243.70" y1="578.00" x2="1243.70" y2="607.80" stroke-width="2.40"/>
<path d="M1244.00,581.40 Q1260.70,576.40 1277.40,581.40" stroke-width="2.10" fill="none"/>
<path d="M1244.00,604.40 Q1260.70,609.40 1277.40,604.40" stroke-width="2.10" fill="none"/>
<line x1="1277.70" y1="578.00" x2="1277.70" y2="607.80" stroke-width="2.40"/>
<path d="M1278.00,581.40 Q1286.50,576.80 1295.00,581.40" stroke-width="2.10" fill="none"/>
<path d="M1278.00,604.40 Q1286.50,609.00 1295.00,604.40" stroke-width="2.10" fill="none"/>
<path d="M1226.10,658.80 V632.60 L1230.60,629.80 H1290.80 L1295.30,632.60 V658.80" stroke-width="2.40" fill="none"/>
<path d="M1226.40,633.20 Q1234.90,628.60 1243.40,633.20" stroke-width="2.10" fill="none"/>
<path d="M1226.40,655.40 Q1234.90,660.00 1243.40,655.40" stroke-width="2.10" fill="none"/>
<line x1="1243.70" y1="629.80" x2="1243.70" y2="658.80" stroke-width="2.40"/>
<path d="M1244.00,633.20 Q1260.70,628.20 1277.40,633.20" stroke-width="2.10" fill="none"/>
<path d="M1244.00,655.40 Q1260.70,660.40 1277.40,655.40" stroke-width="2.10" fill="none"/>
<line x1="1277.70" y1="629.80" x2="1277.70" y2="658.80" stroke-width="2.40"/>
<path d="M1278.00,633.20 Q1286.50,628.60 1295.00,633.20" stroke-width="2.10" fill="none"/>
<path d="M1278.00,655.40 Q1286.50,660.00 1295.00,655.40" stroke-width="2.10" fill="none"/>
<path d="M1415.80,578.0 V523.0 L1420.20,518.9 H1450.40 L1454.80,523.0 V578.0" stroke-width="2.40" fill="none"/>
<line x1="1415.80" y1="523.00" x2="1454.80" y2="523.00" stroke-width="1.80"/>
<line x1="1419.20" y1="523.00" x2="1419.20" y2="578.00" stroke-width="0.90"/>
<line x1="1451.40" y1="523.00" x2="1451.40" y2="578.00" stroke-width="0.90"/>
<line x1="1435.30" y1="519.00" x2="1435.30" y2="658.50" stroke-width="1.35"/>
<line x1="1435.30" y1="671.00" x2="1435.30" y2="678.50" stroke-width="1.35"/>
<line x1="1435.30" y1="501.00" x2="1435.30" y2="507.50" stroke-width="1.35"/>
<path d="M1400.70,607.80 V580.80 L1405.20,578.00 H1465.40 L1469.90,580.80 V607.80" stroke-width="2.40" fill="none"/>
<path d="M1401.00,581.40 Q1409.50,576.80 1418.00,581.40" stroke-width="2.10" fill="none"/>
<path d="M1401.00,604.40 Q1409.50,609.00 1418.00,604.40" stroke-width="2.10" fill="none"/>
<line x1="1418.30" y1="578.00" x2="1418.30" y2="607.80" stroke-width="2.40"/>
<path d="M1418.60,581.40 Q1435.30,576.40 1452.00,581.40" stroke-width="2.10" fill="none"/>
<path d="M1418.60,604.40 Q1435.30,609.40 1452.00,604.40" stroke-width="2.10" fill="none"/>
<line x1="1452.30" y1="578.00" x2="1452.30" y2="607.80" stroke-width="2.40"/>
<path d="M1452.60,581.40 Q1461.10,576.80 1469.60,581.40" stroke-width="2.10" fill="none"/>
<path d="M1452.60,604.40 Q1461.10,609.00 1469.60,604.40" stroke-width="2.10" fill="none"/>
<path d="M1400.70,658.80 V632.60 L1405.20,629.80 H1465.40 L1469.90,632.60 V658.80" stroke-width="2.40" fill="none"/>
<path d="M1401.00,633.20 Q1409.50,628.60 1418.00,633.20" stroke-width="2.10" fill="none"/>
<path d="M1401.00,655.40 Q1409.50,660.00 1418.00,655.40" stroke-width="2.10" fill="none"/>
<line x1="1418.30" y1="629.80" x2="1418.30" y2="658.80" stroke-width="2.40"/>
<path d="M1418.60,633.20 Q1435.30,628.20 1452.00,633.20" stroke-width="2.10" fill="none"/>
<path d="M1418.60,655.40 Q1435.30,660.40 1452.00,655.40" stroke-width="2.10" fill="none"/>
<line x1="1452.30" y1="629.80" x2="1452.30" y2="658.80" stroke-width="2.40"/>
<path d="M1452.60,633.20 Q1461.10,628.60 1469.60,633.20" stroke-width="2.10" fill="none"/>
<path d="M1452.60,655.40 Q1461.10,660.00 1469.60,655.40" stroke-width="2.10" fill="none"/>
<path d="M1311.8,608.0 H1213.8 V629.8 H1482.7 V608.0 H1384.4" stroke-width="2.40" fill="none"/>
<line x1="1396.80" y1="608.80" x2="1417.90" y2="629.00" stroke-width="1.70"/>
<rect x="1213.80" y="659.00" width="268.90" height="21.90" stroke-width="2.40" fill="none"/>
<line x1="1240.50" y1="659.00" x2="1240.50" y2="680.90" stroke-width="2.40"/>
<line x1="1307.70" y1="659.00" x2="1307.70" y2="680.90" stroke-width="2.40"/>
<line x1="1387.90" y1="659.00" x2="1387.90" y2="680.90" stroke-width="2.40"/>
<line x1="1455.10" y1="659.00" x2="1455.10" y2="680.90" stroke-width="2.40"/>
<line x1="1327.20" y1="659.80" x2="1308.50" y2="680.00" stroke-width="1.70"/>
<line x1="1463.20" y1="659.80" x2="1456.00" y2="668.00" stroke-width="1.70"/>
<line x1="1283.40" y1="525.40" x2="1290.70" y2="525.40" stroke-width="1.35"/>
<line x1="1405.40" y1="525.40" x2="1413.00" y2="525.40" stroke-width="1.35"/>
<line x1="1274.40" y1="681.00" x2="1274.40" y2="849.00" stroke-width="1.35"/>
<line x1="1421.80" y1="681.00" x2="1421.80" y2="849.00" stroke-width="1.35"/>
<line x1="1274.40" y1="832.40" x2="1421.80" y2="832.40" stroke-width="1.35"/>
<path d="M1275.00,832.40 L1306.00,826.70 L1306.00,838.10 Z" fill="#000" stroke="#000" stroke-width="1.00" stroke-linejoin="round"/>
<path d="M1421.20,832.40 L1390.20,838.10 L1390.20,826.70 Z" fill="#000" stroke="#000" stroke-width="1.00" stroke-linejoin="round"/>
<path transform="translate(1332.65,793.05) scale(2.9100,2.9100)" d="M 4.40,0.25 H 0.30 V 4.60 H 1.80 Q 4.40,4.60 4.40,7.20 Q 4.40,9.80 1.80,9.80 H 0.00 M 10.21,0.25 H 6.11 V 4.60 H 7.61 Q 10.21,4.60 10.21,7.20 Q 10.21,9.80 7.61,9.80 H 5.81" stroke-width="2.10" fill="none" vector-effect="non-scaling-stroke"/>
<path transform="translate(1285.30,706.60) scale(2.0600,2.0600)" d="M 4.20,1.50 Q 3.60,0.10 2.30,0.10 Q 0.10,0.10 0.10,2.20 Q 0.10,3.30 1.10,4.30 L 3.60,6.70 Q 4.60,7.70 4.60,8.10 Q 4.60,9.90 2.30,9.90 Q 0.90,9.90 0.10,8.70 M 10.73,0.25 H 6.53 V 9.75 H 10.73 M 6.53,4.60 H 9.93 M 16.76,0.25 H 13.86 Q 12.56,0.25 12.56,1.60 V 8.40 Q 12.56,9.75 13.86,9.75 H 16.76 M 18.60,0.25 H 23.80 M 21.20,0.25 V 10.00 M 25.73,0.00 V 10.00 M 30.01,0.10 Q 32.26,0.10 32.26,2.50 V 7.50 Q 32.26,9.90 30.01,9.90 Q 27.76,9.90 27.76,7.50 V 2.50 Q 27.76,0.10 30.01,0.10 Z M 34.29,10.00 V 0.00 L 38.59,10.00 V 0.00 M 49.86,0.25 H 46.66 Q 45.36,0.25 45.36,1.60 V 8.40 Q 45.36,9.75 46.66,9.75 H 49.86 V 4.60 H 48.16 M 51.69,6.60 H 56.29 M 62.62,0.25 H 59.42 Q 58.12,0.25 58.12,1.60 V 8.40 Q 58.12,9.75 59.42,9.75 H 62.62 V 4.60 H 60.92" stroke-width="1.60" fill="none" vector-effect="non-scaling-stroke"/>
<line x1="435.50" y1="814.60" x2="972.10" y2="814.60" stroke-width="1.35"/>
<path d="M436.10,814.60 L467.10,808.90 L467.10,820.30 Z" fill="#000" stroke="#000" stroke-width="1.00" stroke-linejoin="round"/>
<path d="M971.50,814.60 L940.50,820.30 L940.50,808.90 Z" fill="#000" stroke="#000" stroke-width="1.00" stroke-linejoin="round"/>
<line x1="435.50" y1="798.60" x2="435.50" y2="956.00" stroke-width="1.35"/>
<line x1="972.10" y1="798.60" x2="972.10" y2="956.00" stroke-width="1.35"/>
<path transform="translate(681.50,777.00) scale(2.8200,2.8200)" d="M 0.10,2.10 Q 0.70,0.10 2.60,0.10 Q 4.90,0.10 4.90,2.30 Q 4.90,3.10 4.40,3.80 L 0.10,9.80 H 5.30 M 9.68,0.10 Q 11.98,0.10 11.98,5.00 Q 11.98,9.90 9.68,9.90 Q 7.38,9.90 7.38,5.00 Q 7.38,0.10 9.68,0.10 Z M 16.35,0.10 Q 18.65,0.10 18.65,5.00 Q 18.65,9.90 16.35,9.90 Q 14.05,9.90 14.05,5.00 Q 14.05,0.10 16.35,0.10 Z" stroke-width="2.00" fill="none" vector-effect="non-scaling-stroke"/>
<line x1="500.00" y1="897.70" x2="907.80" y2="897.70" stroke-width="1.35"/>
<path d="M500.60,897.70 L531.60,892.00 L531.60,903.40 Z" fill="#000" stroke="#000" stroke-width="1.00" stroke-linejoin="round"/>
<path d="M907.20,897.70 L876.20,903.40 L876.20,892.00 Z" fill="#000" stroke="#000" stroke-width="1.00" stroke-linejoin="round"/>
<line x1="500.00" y1="881.00" x2="500.00" y2="982.00" stroke-width="1.35"/>
<line x1="907.80" y1="881.00" x2="907.80" y2="982.00" stroke-width="1.35"/>
<path transform="translate(683.40,857.90) scale(2.8600,2.8600)" d="M 0.00,2.90 L 2.40,0.10 V 10.00 M 8.58,0.25 H 4.48 V 4.60 H 5.98 Q 8.58,4.60 8.58,7.20 Q 8.58,9.80 5.98,9.80 H 4.18 M 10.36,2.10 Q 10.96,0.10 12.86,0.10 Q 15.16,0.10 15.16,2.30 Q 15.16,3.10 14.66,3.80 L 10.36,9.80 H 15.56" stroke-width="2.00" fill="none" vector-effect="non-scaling-stroke"/>
<line x1="383.30" y1="955.90" x2="383.30" y2="1223.40" stroke-width="1.35"/>
<path d="M383.30,956.50 L389.00,987.50 L377.60,987.50 Z" fill="#000" stroke="#000" stroke-width="1.00" stroke-linejoin="round"/>
<path d="M383.30,1222.80 L377.60,1191.80 L389.00,1191.80 Z" fill="#000" stroke="#000" stroke-width="1.00" stroke-linejoin="round"/>
<line x1="367.00" y1="955.90" x2="435.50" y2="955.90" stroke-width="1.35"/>
<line x1="367.00" y1="1223.40" x2="435.50" y2="1223.40" stroke-width="1.35"/>
<path transform="translate(343.80,1109.80) rotate(-90) scale(2.9400,2.9400)" d="M 0.00,2.90 L 2.40,0.10 V 10.00 M 6.60,0.10 Q 8.90,0.10 8.90,5.00 Q 8.90,9.90 6.60,9.90 Q 4.30,9.90 4.30,5.00 Q 4.30,0.10 6.60,0.10 Z M 13.01,0.10 Q 15.31,0.10 15.31,5.00 Q 15.31,9.90 13.01,9.90 Q 10.71,9.90 10.71,5.00 Q 10.71,0.10 13.01,0.10 Z" stroke-width="2.00" fill="none" vector-effect="non-scaling-stroke"/>
<line x1="885.10" y1="989.70" x2="885.10" y2="1314.60" stroke-width="1.35"/>
<line x1="930.80" y1="1172.00" x2="930.80" y2="1314.60" stroke-width="1.35"/>
<line x1="821.20" y1="1298.10" x2="1050.00" y2="1298.10" stroke-width="1.35"/>
<path d="M884.50,1298.10 L853.50,1303.80 L853.50,1292.40 Z" fill="#000" stroke="#000" stroke-width="1.00" stroke-linejoin="round"/>
<path d="M931.40,1298.10 L962.40,1292.40 L962.40,1303.80 Z" fill="#000" stroke="#000" stroke-width="1.00" stroke-linejoin="round"/>
<path transform="translate(1009.30,1258.10) scale(2.9100,2.9100)" d="M 0.00,2.90 L 2.40,0.10 V 10.00 M 4.21,1.30 V 0.30 H 9.31 L 6.11,10.00" stroke-width="2.00" fill="none" vector-effect="non-scaling-stroke"/>
<rect x="435.50" y="955.90" width="536.60" height="267.50" stroke-width="2.40" fill="none"/>
<line x1="542.60" y1="955.90" x2="542.60" y2="1008.50" stroke-width="2.40"/>
<line x1="542.60" y1="1171.50" x2="542.60" y2="1223.40" stroke-width="2.40"/>
<line x1="864.60" y1="955.90" x2="864.60" y2="1008.50" stroke-width="2.40"/>
<line x1="864.60" y1="1171.50" x2="864.60" y2="1223.40" stroke-width="2.40"/>
<path d="M477.20,1008.5 V1005 A22.8,22.8 0 0 1 522.80,1005 V1008.5" stroke-width="2.40" fill="none"/>
<path d="M477.20,1171.5 V1174.5 A22.8,22.8 0 0 0 522.80,1174.5 V1171.5" stroke-width="2.40" fill="none"/>
<path d="M885.00,1008.5 V1005 A22.8,22.8 0 0 1 930.60,1005 V1008.5" stroke-width="2.40" fill="none"/>
<path d="M885.00,1171.5 V1174.5 A22.8,22.8 0 0 0 930.60,1174.5 V1171.5" stroke-width="2.40" fill="none"/>
<line x1="523.20" y1="989.70" x2="523.20" y2="995.00" stroke-width="1.35"/>
<line x1="523.20" y1="1000.00" x2="523.20" y2="1185.00" stroke-width="1.35"/>
<line x1="523.20" y1="1190.00" x2="523.20" y2="1195.00" stroke-width="1.35"/>
<path d="M589.60,968.30 L619.65,985.65 L619.65,1020.35 L589.60,1037.70 L559.55,1020.35 L559.55,985.65 Z" stroke-width="2.40" fill="none"/>
<circle cx="589.60" cy="1003.00" r="28.30" stroke-width="1.60" fill="none" stroke="#000"/>
<circle cx="589.60" cy="1003.00" r="18.60" stroke-width="2.00" fill="none" stroke="#000"/>
<circle cx="589.60" cy="1003.00" r="16.40" stroke-width="0.90" fill="none" stroke="#000"/>
<circle cx="589.60" cy="1003.00" r="13.60" stroke-width="2.00" fill="none" stroke="#000"/>
<line x1="540.40" y1="1003.00" x2="638.70" y2="1003.00" stroke-width="1.35"/>
<line x1="589.60" y1="953.00" x2="589.60" y2="1051.50" stroke-width="1.35"/>
<path d="M589.60,1142.80 L619.65,1160.15 L619.65,1194.85 L589.60,1212.20 L559.55,1194.85 L559.55,1160.15 Z" stroke-width="2.40" fill="none"/>
<circle cx="589.60" cy="1177.50" r="28.30" stroke-width="1.60" fill="none" stroke="#000"/>
<circle cx="589.60" cy="1177.50" r="18.60" stroke-width="2.00" fill="none" stroke="#000"/>
<circle cx="589.60" cy="1177.50" r="16.40" stroke-width="0.90" fill="none" stroke="#000"/>
<circle cx="589.60" cy="1177.50" r="13.60" stroke-width="2.00" fill="none" stroke="#000"/>
<line x1="540.40" y1="1177.50" x2="638.70" y2="1177.50" stroke-width="1.35"/>
<line x1="589.60" y1="1127.50" x2="589.60" y2="1226.00" stroke-width="1.35"/>
<path d="M817.70,968.10 L847.75,985.45 L847.75,1020.15 L817.70,1037.50 L787.65,1020.15 L787.65,985.45 Z" stroke-width="2.40" fill="none"/>
<circle cx="817.70" cy="1002.80" r="28.30" stroke-width="1.60" fill="none" stroke="#000"/>
<circle cx="817.70" cy="1002.80" r="18.60" stroke-width="2.00" fill="none" stroke="#000"/>
<circle cx="817.70" cy="1002.80" r="16.40" stroke-width="0.90" fill="none" stroke="#000"/>
<circle cx="817.70" cy="1002.80" r="13.60" stroke-width="2.00" fill="none" stroke="#000"/>
<line x1="768.50" y1="1002.80" x2="866.80" y2="1002.80" stroke-width="1.35"/>
<line x1="817.70" y1="952.80" x2="817.70" y2="1051.30" stroke-width="1.35"/>
<path d="M817.70,1142.80 L847.75,1160.15 L847.75,1194.85 L817.70,1212.20 L787.65,1194.85 L787.65,1160.15 Z" stroke-width="2.40" fill="none"/>
<circle cx="817.70" cy="1177.50" r="28.30" stroke-width="1.60" fill="none" stroke="#000"/>
<circle cx="817.70" cy="1177.50" r="18.60" stroke-width="2.00" fill="none" stroke="#000"/>
<circle cx="817.70" cy="1177.50" r="16.40" stroke-width="0.90" fill="none" stroke="#000"/>
<circle cx="817.70" cy="1177.50" r="13.60" stroke-width="2.00" fill="none" stroke="#000"/>
<line x1="768.50" y1="1177.50" x2="866.80" y2="1177.50" stroke-width="1.35"/>
<line x1="817.70" y1="1127.50" x2="817.70" y2="1226.00" stroke-width="1.35"/>
<line x1="493.60" y1="1048.70" x2="493.60" y2="1076.50" stroke-width="2.40"/>
<line x1="493.60" y1="1103.50" x2="493.60" y2="1132.60" stroke-width="2.40"/>
<line x1="553.00" y1="1048.70" x2="553.00" y2="1076.50" stroke-width="2.40"/>
<line x1="553.00" y1="1103.50" x2="553.00" y2="1132.60" stroke-width="2.40"/>
<line x1="856.40" y1="1048.70" x2="856.40" y2="1076.50" stroke-width="2.40"/>
<line x1="856.40" y1="1103.50" x2="856.40" y2="1132.60" stroke-width="2.40"/>
<line x1="914.70" y1="1048.70" x2="914.70" y2="1076.50" stroke-width="2.40"/>
<line x1="914.70" y1="1103.50" x2="914.70" y2="1132.60" stroke-width="2.40"/>
<rect x="477.00" y="1076.50" width="136.30" height="27.00" stroke-width="2.40" fill="#fff"/>
<rect x="795.40" y="1076.50" width="136.10" height="27.00" stroke-width="2.40" fill="#fff"/>
<rect x="431.50" y="1016.20" width="183.30" height="25.00" fill="#fff" stroke="none"/>
<path d="M439.50,1008.50 H606.80 L614.80,1016.20 V1041.20 L606.80,1048.70 H439.50 L431.50,1041.20 V1016.20 Z" stroke-width="2.4" fill="none"/>
<line x1="431.50" y1="1016.20" x2="614.80" y2="1016.20" stroke-width="2.40"/>
<line x1="431.50" y1="1041.20" x2="614.80" y2="1041.20" stroke-width="2.40"/>
<rect x="431.50" y="1139.90" width="183.30" height="24.30" fill="#fff" stroke="none"/>
<path d="M439.50,1132.60 H606.80 L614.80,1139.90 V1164.20 L606.80,1171.50 H439.50 L431.50,1164.20 V1139.90 Z" stroke-width="2.4" fill="none"/>
<line x1="431.50" y1="1139.90" x2="614.80" y2="1139.90" stroke-width="2.40"/>
<line x1="431.50" y1="1164.20" x2="614.80" y2="1164.20" stroke-width="2.40"/>
<rect x="793.90" y="1016.20" width="183.30" height="25.00" fill="#fff" stroke="none"/>
<path d="M801.90,1008.50 H969.20 L977.20,1016.20 V1041.20 L969.20,1048.70 H801.90 L793.90,1041.20 V1016.20 Z" stroke-width="2.4" fill="none"/>
<line x1="793.90" y1="1016.20" x2="977.20" y2="1016.20" stroke-width="2.40"/>
<line x1="793.90" y1="1041.20" x2="977.20" y2="1041.20" stroke-width="2.40"/>
<rect x="793.90" y="1139.90" width="183.30" height="24.30" fill="#fff" stroke="none"/>
<path d="M801.90,1132.60 H969.20 L977.20,1139.90 V1164.20 L969.20,1171.50 H801.90 L793.90,1164.20 V1139.90 Z" stroke-width="2.4" fill="none"/>
<line x1="793.90" y1="1139.90" x2="977.20" y2="1139.90" stroke-width="2.40"/>
<line x1="793.90" y1="1164.20" x2="977.20" y2="1164.20" stroke-width="2.40"/>
<line x1="523.20" y1="1000.00" x2="523.20" y2="1185.00" stroke-width="1.35"/>
<line x1="885.10" y1="989.70" x2="885.10" y2="1314.60" stroke-width="1.35"/>
<line x1="930.80" y1="1172.00" x2="930.80" y2="1314.60" stroke-width="1.35"/>
<line x1="589.60" y1="953.00" x2="589.60" y2="1051.50" stroke-width="1.35"/>
<line x1="589.60" y1="1127.50" x2="589.60" y2="1226.00" stroke-width="1.35"/>
<line x1="817.70" y1="952.80" x2="817.70" y2="1051.30" stroke-width="1.35"/>
<line x1="817.70" y1="1127.50" x2="817.70" y2="1226.00" stroke-width="1.35"/>
<circle cx="704.50" cy="1090.00" r="91.50" stroke-width="2.40" fill="#fff" stroke="#000"/>
<circle cx="704.50" cy="1090.00" r="83.00" stroke-width="2.40" fill="none" stroke="#000"/>
<circle cx="704.50" cy="1090.00" r="36.40" stroke-width="14.40" fill="none" stroke="#000"/>
<path d="M739.48,1099.70 A36.30,36.30 0 0 1 736.09,1107.87" stroke="#fff" stroke-width="1.9" stroke-linecap="round" fill="none"/>
<path d="M735.24,1098.52 A31.90,31.90 0 0 1 732.26,1105.71" stroke="#fff" stroke-width="1.9" stroke-linecap="round" fill="none"/>
<path d="M722.37,1121.59 A36.30,36.30 0 0 1 714.20,1124.98" stroke="#fff" stroke-width="1.9" stroke-linecap="round" fill="none"/>
<path d="M720.21,1117.76 A31.90,31.90 0 0 1 713.02,1120.74" stroke="#fff" stroke-width="1.9" stroke-linecap="round" fill="none"/>
<path d="M694.80,1124.98 A36.30,36.30 0 0 1 686.63,1121.59" stroke="#fff" stroke-width="1.9" stroke-linecap="round" fill="none"/>
<path d="M695.98,1120.74 A31.90,31.90 0 0 1 688.79,1117.76" stroke="#fff" stroke-width="1.9" stroke-linecap="round" fill="none"/>
<path d="M672.91,1107.87 A36.30,36.30 0 0 1 669.52,1099.70" stroke="#fff" stroke-width="1.9" stroke-linecap="round" fill="none"/>
<path d="M676.74,1105.71 A31.90,31.90 0 0 1 673.76,1098.52" stroke="#fff" stroke-width="1.9" stroke-linecap="round" fill="none"/>
<path d="M669.52,1080.30 A36.30,36.30 0 0 1 672.91,1072.13" stroke="#fff" stroke-width="1.9" stroke-linecap="round" fill="none"/>
<path d="M673.76,1081.48 A31.90,31.90 0 0 1 676.74,1074.29" stroke="#fff" stroke-width="1.9" stroke-linecap="round" fill="none"/>
<path d="M686.63,1058.41 A36.30,36.30 0 0 1 694.80,1055.02" stroke="#fff" stroke-width="1.9" stroke-linecap="round" fill="none"/>
<path d="M688.79,1062.24 A31.90,31.90 0 0 1 695.98,1059.26" stroke="#fff" stroke-width="1.9" stroke-linecap="round" fill="none"/>
<path d="M714.20,1055.02 A36.30,36.30 0 0 1 722.37,1058.41" stroke="#fff" stroke-width="1.9" stroke-linecap="round" fill="none"/>
<path d="M713.02,1059.26 A31.90,31.90 0 0 1 720.21,1062.24" stroke="#fff" stroke-width="1.9" stroke-linecap="round" fill="none"/>
<path d="M736.09,1072.13 A36.30,36.30 0 0 1 739.48,1080.30" stroke="#fff" stroke-width="1.9" stroke-linecap="round" fill="none"/>
<path d="M732.26,1074.29 A31.90,31.90 0 0 1 735.24,1081.48" stroke="#fff" stroke-width="1.9" stroke-linecap="round" fill="none"/>
<rect x="735.20" y="1083.80" width="6.5" height="12.4" rx="1.6" fill="#fff" stroke="none" transform="rotate(0 738.45 1090.00)"/>
<rect x="725.26" y="1107.81" width="6.5" height="12.4" rx="1.6" fill="#fff" stroke="none" transform="rotate(45 728.51 1114.01)"/>
<rect x="701.25" y="1117.75" width="6.5" height="12.4" rx="1.6" fill="#fff" stroke="none" transform="rotate(90 704.50 1123.95)"/>
<rect x="677.24" y="1107.81" width="6.5" height="12.4" rx="1.6" fill="#fff" stroke="none" transform="rotate(135 680.49 1114.01)"/>
<rect x="667.30" y="1083.80" width="6.5" height="12.4" rx="1.6" fill="#fff" stroke="none" transform="rotate(180 670.55 1090.00)"/>
<rect x="677.24" y="1059.79" width="6.5" height="12.4" rx="1.6" fill="#fff" stroke="none" transform="rotate(225 680.49 1065.99)"/>
<rect x="701.25" y="1049.85" width="6.5" height="12.4" rx="1.6" fill="#fff" stroke="none" transform="rotate(270 704.50 1056.05)"/>
<rect x="725.26" y="1059.79" width="6.5" height="12.4" rx="1.6" fill="#fff" stroke="none" transform="rotate(315 728.51 1065.99)"/>
<circle cx="704.50" cy="1090.00" r="24.60" stroke-width="0.80" fill="none" stroke="#000"/>
<circle cx="704.50" cy="1090.00" r="20.30" stroke-width="6.80" fill="none" stroke="#000"/>
<path d="M703.50,1063.00 L706.50,1071.00" stroke="#fff" stroke-width="3"/>
<circle cx="702.30" cy="1063.80" r="1.60" stroke-width="1.10" fill="#fff" stroke="#000"/>
<circle cx="714.50" cy="1065.60" r="1.60" stroke-width="1.10" fill="#fff" stroke="#000"/>
<line x1="458.10" y1="1089.90" x2="466.00" y2="1089.90" stroke-width="1.35"/>
<line x1="478.40" y1="1089.90" x2="603.00" y2="1089.90" stroke-width="1.35"/>
<line x1="615.90" y1="1089.90" x2="629.40" y2="1089.90" stroke-width="1.35"/>
<line x1="642.30" y1="1089.90" x2="766.40" y2="1089.90" stroke-width="1.35"/>
<line x1="779.20" y1="1089.90" x2="792.80" y2="1089.90" stroke-width="1.35"/>
<line x1="806.30" y1="1089.90" x2="930.20" y2="1089.90" stroke-width="1.35"/>
<line x1="943.10" y1="1089.90" x2="950.50" y2="1089.90" stroke-width="1.35"/>
<line x1="704.50" y1="976.40" x2="704.50" y2="984.20" stroke-width="1.35"/>
<line x1="704.50" y1="998.50" x2="704.50" y2="1181.50" stroke-width="1.35"/>
<line x1="704.50" y1="1193.00" x2="704.50" y2="1200.70" stroke-width="1.35"/>
</g>
</svg>
</body></html>
